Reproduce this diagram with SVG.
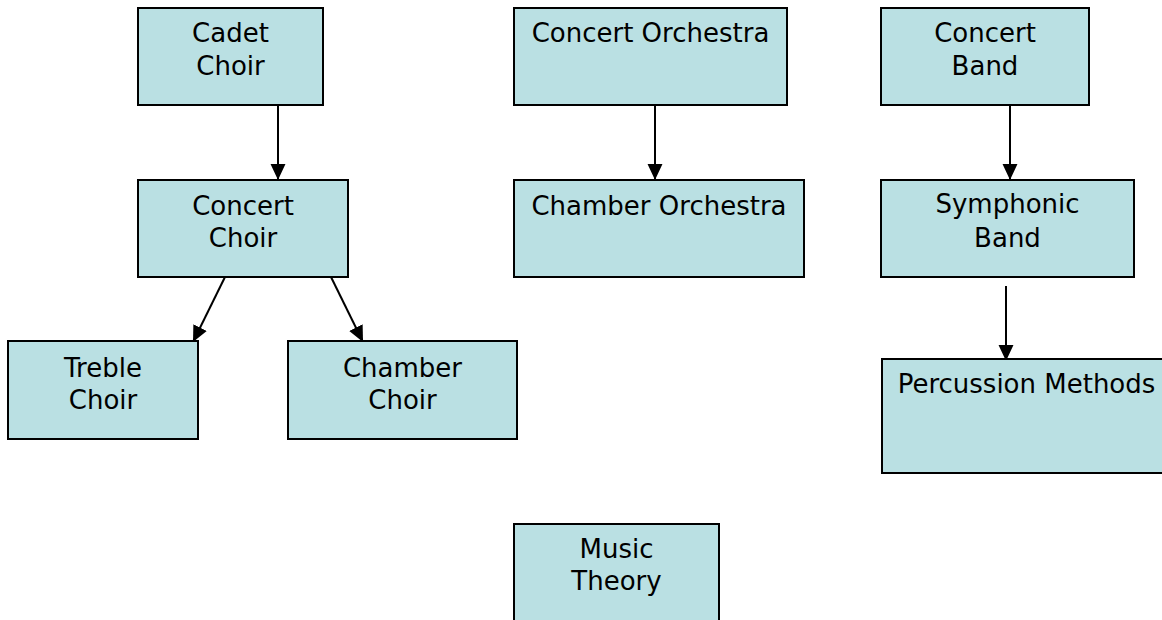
<svg xmlns="http://www.w3.org/2000/svg" width="1162" height="620" viewBox="0 0 1162 620">
<style>
.box{fill:#BAE0E3;stroke:#000;stroke-width:2}
.lbl{font-family:"DejaVu Sans",Verdana,sans-serif;font-size:26px;fill:#000;text-anchor:middle}
.con{stroke:#000;stroke-width:2;fill:none;marker-end:url(#ah)}
</style>
<defs>
<marker id="ah" markerUnits="userSpaceOnUse" markerWidth="16" markerHeight="16" viewBox="0 0 15 14" refX="15" refY="7" orient="auto">
<path d="M0,0 L15,7 L0,14 Z" fill="#000"/>
</marker>
</defs>
<rect width="1162" height="620" fill="#fff"/>
<g id="connectors">
<line class="con" x1="278" y1="105" x2="278" y2="180"/>
<line class="con" x1="225" y1="277" x2="193" y2="342"/>
<line class="con" x1="331" y1="277" x2="363" y2="342"/>
<line class="con" x1="655" y1="105" x2="655" y2="180"/>
<line class="con" x1="1010" y1="105" x2="1010" y2="180"/>
<line class="con" x1="1006" y1="286" x2="1006" y2="361"/>
</g>
<g id="cadet-choir">
<rect class="box" x="138" y="8" width="185" height="97"/>
<text class="lbl" x="230.5" y="42">Cadet</text>
<text class="lbl" x="230.5" y="75">Choir</text>
</g>
<g id="concert-choir">
<rect class="box" x="138" y="180" width="210" height="97"/>
<text class="lbl" x="243" y="215">Concert</text>
<text class="lbl" x="243" y="247">Choir</text>
</g>
<g id="treble-choir">
<rect class="box" x="8" y="341" width="190" height="98"/>
<text class="lbl" x="103" y="377">Treble</text>
<text class="lbl" x="103" y="409">Choir</text>
</g>
<g id="chamber-choir">
<rect class="box" x="288" y="341" width="229" height="98"/>
<text class="lbl" x="402.5" y="377">Chamber</text>
<text class="lbl" x="402.5" y="409">Choir</text>
</g>
<g id="concert-orchestra">
<rect class="box" x="514" y="8" width="273" height="97"/>
<text class="lbl" x="650.5" y="42">Concert Orchestra</text>
</g>
<g id="chamber-orchestra">
<rect class="box" x="514" y="180" width="290" height="97"/>
<text class="lbl" x="659" y="215">Chamber Orchestra</text>
</g>
<g id="concert-band">
<rect class="box" x="881" y="8" width="208" height="97"/>
<text class="lbl" x="985" y="42">Concert</text>
<text class="lbl" x="985" y="75">Band</text>
</g>
<g id="symphonic-band">
<rect class="box" x="881" y="180" width="253" height="97"/>
<text class="lbl" x="1007.5" y="213">Symphonic</text>
<text class="lbl" x="1007.5" y="247">Band</text>
</g>
<g id="percussion-methods">
<rect class="box" x="882" y="359" width="290" height="114"/>
<text class="lbl" x="1026.5" y="393">Percussion Methods</text>
</g>
<g id="music-theory">
<rect class="box" x="514" y="524" width="205" height="110"/>
<text class="lbl" x="616.5" y="558">Music</text>
<text class="lbl" x="616.5" y="590">Theory</text>
</g>
</svg>
